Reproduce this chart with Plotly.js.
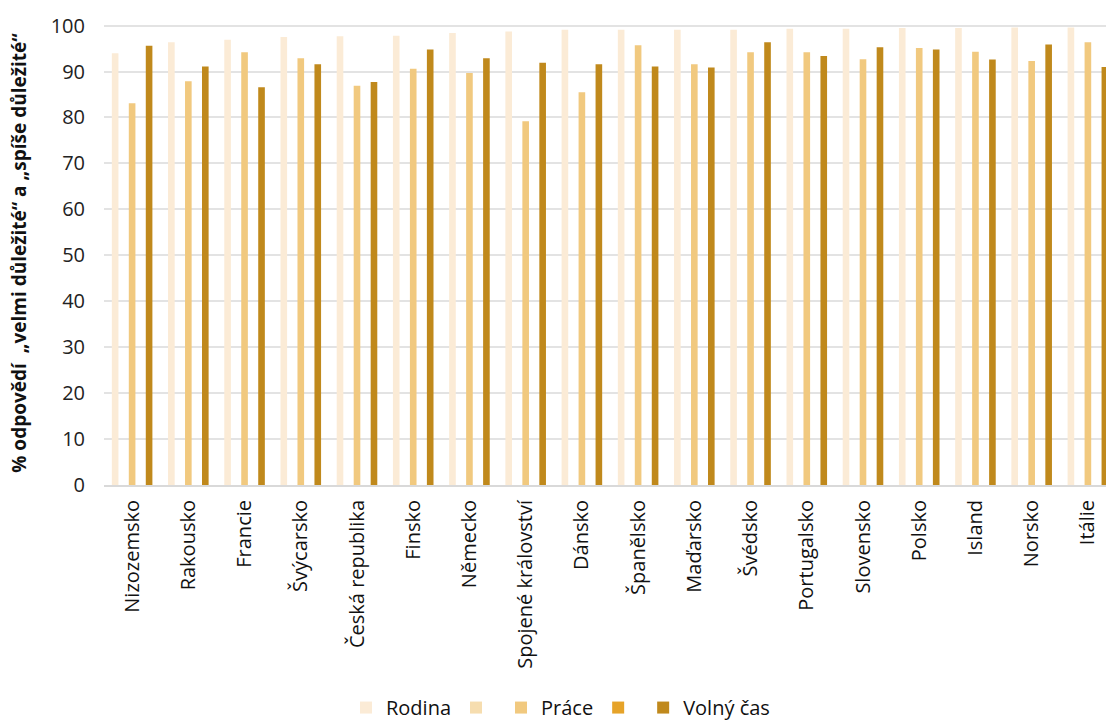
<!DOCTYPE html>
<html>
<head>
<meta charset="utf-8">
<script src="https://cdn.plot.ly/plotly-3.0.1.min.js"></script>
<style>
html, body { margin: 0; padding: 0; overflow: hidden; background: #fff; }
#chart { width: 1130px; height: 722px; }
</style>
</head>
<body>
<div id="chart"></div>
<script>
const categories = ["Nizozemsko", "Rakousko", "Francie", "Švýcarsko", "Česká republika", "Finsko",
  "Německo", "Spojené království", "Dánsko", "Španělsko", "Maďarsko", "Švédsko",
  "Portugalsko", "Slovensko", "Polsko", "Island", "Norsko", "Itálie"];
const rodina   = [94.0, 96.4, 96.9, 97.5, 97.7, 97.8, 98.4, 98.7, 99.1, 99.1, 99.1, 99.1, 99.3, 99.3, 99.5, 99.5, 99.6, 99.6];
const prace    = [83.1, 87.9, 94.2, 92.9, 86.9, 90.6, 89.7, 79.2, 85.5, 95.7, 91.6, 94.2, 94.2, 92.7, 95.1, 94.3, 92.3, 96.4];
const volnyCas = [95.6, 91.1, 86.6, 91.6, 87.7, 94.8, 92.9, 91.9, 91.6, 91.1, 90.9, 96.4, 93.4, 95.3, 94.8, 92.6, 95.9, 91.0];
const emptySeries = categories.map(() => null);
const seriesNames = ["Rodina", "", "Práce", "", "Volný čas"];
const seriesColors = ["#FBEBD6", "#F6DDAF", "#F1C97F", "#E6A329", "#C0891C"];
const seriesValues = [rodina, emptySeries, prace, emptySeries, volnyCas];

const FONT = "'Open Sans', 'Noto Sans', sans-serif";

const traces = seriesValues.map((vals, i) => ({
  type: "bar",
  name: seriesNames[i],
  x: categories,
  y: vals,
  marker: { color: seriesColors[i] },
  hoverinfo: "x+y+name"
}));

const layout = {
  width: 1130,
  height: 722,
  paper_bgcolor: "#ffffff",
  plot_bgcolor: "#ffffff",
  margin: { l: 104, r: 14, t: 21, b: 237 },
  barmode: "group",
  bargap: 0.245,
  bargroupgap: 0.22,
  font: { family: FONT, size: 20, color: "#222222" },
  xaxis: {
    type: "category",
    tickangle: -90,
    tickfont: { family: FONT, size: 20, color: "#111111" },
    showgrid: false,
    showline: true,
    linecolor: "#d9d9d9",
    linewidth: 2,
    ticks: "",
    ticklabelstandoff: 5
  },
  yaxis: {
    range: [0, 101],
    tickvals: [0, 10, 20, 30, 40, 50, 60, 70, 80, 90, 100],
    tickfont: { family: FONT, size: 20, color: "#222222" },
    showgrid: true,
    gridcolor: "#e3e3e3",
    gridwidth: 2,
    zeroline: false,
    showline: false,
    ticks: "",
    ticklabelstandoff: 18,
    title: {
      text: "% odpovědí  „velmi důležité“ a „spíše důležité“",
      font: { family: FONT, size: 19, color: "#111111", weight: "bold" },
      standoff: 19
    }
  },
  legend: {
    orientation: "h",
    xref: "container",
    yref: "container",
    x: 0.496,
    xanchor: "center",
    y: 0.02,
    yanchor: "middle",
    font: { family: FONT, size: 20, color: "#111111" },
    traceorder: "normal"
  },
  showlegend: true
};

Plotly.newPlot("chart", traces, layout, { displayModeBar: false, responsive: false });
</script>
</body>
</html>
